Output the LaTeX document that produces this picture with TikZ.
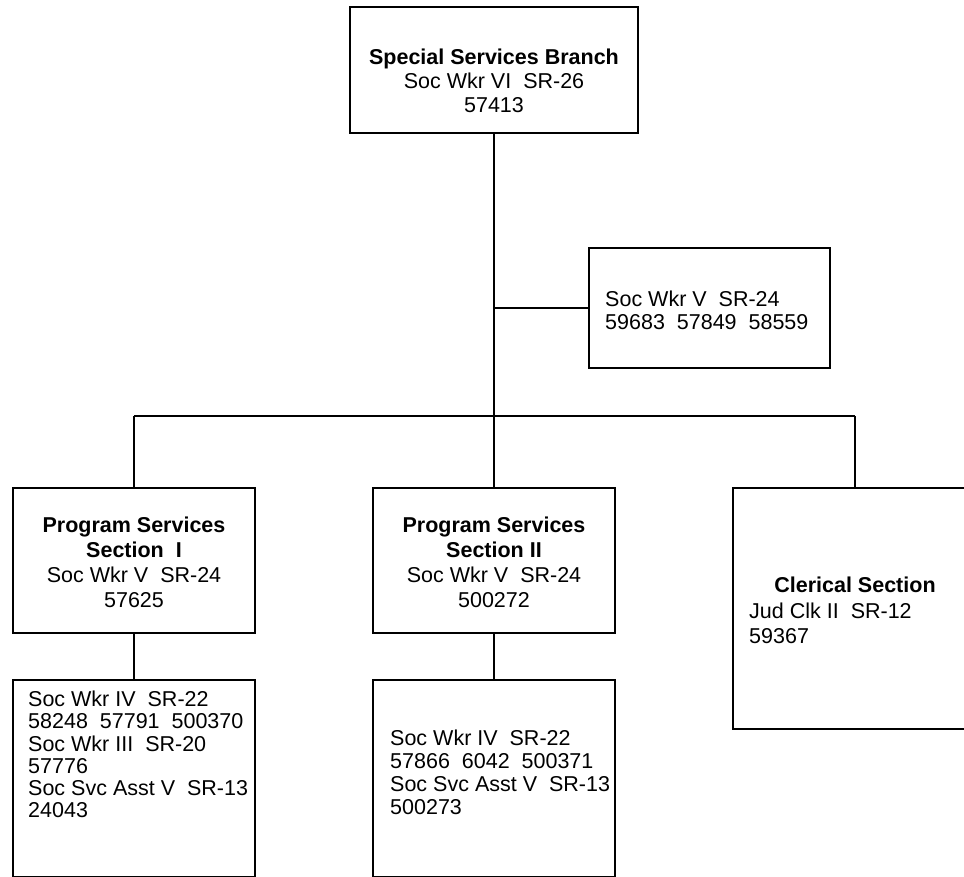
\documentclass[tikz,border=0pt]{standalone}
\usepackage{fontspec}
\setmainfont{Liberation Sans}
\usetikzlibrary{positioning}

\tikzset{
  orgbox/.style={draw, line width=1.6pt, rectangle, inner sep=0pt},
  orgtext/.style={inner sep=0pt, font=\fontsize{21.5}{#1}\selectfont},
  orgtext/.default=25,
  link/.style={line width=1.3pt},
}

\begin{document}
\begin{tikzpicture}[x=1pt, y=-1pt]
    \useasboundingbox (0,0) rectangle (964,877);

    % Branch head
    \node[orgbox, minimum width=288pt, minimum height=126pt] (branch) at (494,70) {};
    \node[orgtext=24, align=center] (branchtxt) at (494,81) {\textbf{Special Services Branch}\\Soc Wkr VI\ \ SR-26\\57413};

    % Staff box on the trunk
    \node[orgbox, minimum width=241pt, minimum height=120pt] (staff) at (709.5,308) {};
    \node[orgtext=23, align=left, anchor=west] (stafftxt) at (605,310) {Soc Wkr V\ \ SR-24\\59683\ \ 57849\ \ 58559};

    % Sections
    \node[orgbox, minimum width=242pt, minimum height=145pt] (secone) at (134,560.5) {};
    \node[orgtext, align=center] (seconetxt) at (134,562) {\textbf{Program Services}\\\textbf{Section\ \ I}\\Soc Wkr V\ \ SR-24\\57625};

    \node[orgbox, minimum width=242pt, minimum height=145pt] (sectwo) at (494,560.5) {};
    \node[orgtext, align=center] (sectwotxt) at (494,562) {\textbf{Program Services}\\\textbf{Section II}\\Soc Wkr V\ \ SR-24\\500272};

    \node[orgbox, minimum width=244pt, minimum height=241pt] (clerical) at (855,608.5) {};
    \node[orgtext] (clericaltitle) at (855,585) {\textbf{Clerical Section}};
    \node[orgtext, align=left, anchor=west] (clericaltxt) at (749,623) {Jud Clk II\ \ SR-12\\59367};

    % Units under the sections
    \node[orgbox, minimum width=242pt, minimum height=197pt] (unitone) at (134,778.5) {};
    \node[orgtext=22.2, align=left, anchor=west] (unitonetxt) at (28,754.5) {Soc Wkr IV\ \ SR-22\\58248\ \ 57791\ \ 500370\\Soc Wkr III\ \ SR-20\\57776\\Soc Svc Asst V\ \ SR-13\\24043};

    \node[orgbox, minimum width=242pt, minimum height=197pt] (unittwo) at (494,778.5) {};
    \node[orgtext=23, align=left, anchor=west] (unittwotxt) at (390,772.5) {Soc Wkr IV\ \ SR-22\\57866\ \ 6042\ \ 500371\\Soc Svc Asst V\ \ SR-13\\500273};

    % Connectors
    \coordinate (busleft) at (134,416);
    \coordinate (busmid) at (494,416);
    \coordinate (busright) at (855,416);

    \draw[link] (branch.south) -- (busmid);
    \draw[link] (staff.west) -- (staff.west -| branch.south);
    \draw[link] (busleft) -- (busright);
    \draw[link] (busleft) -- (secone.north);
    \draw[link] (busmid) -- (sectwo.north);
    \draw[link] (busright) -- (clerical.north);
    \draw[link] (secone.south) -- (unitone.north);
    \draw[link] (sectwo.south) -- (unittwo.north);
\end{tikzpicture}
\end{document}
